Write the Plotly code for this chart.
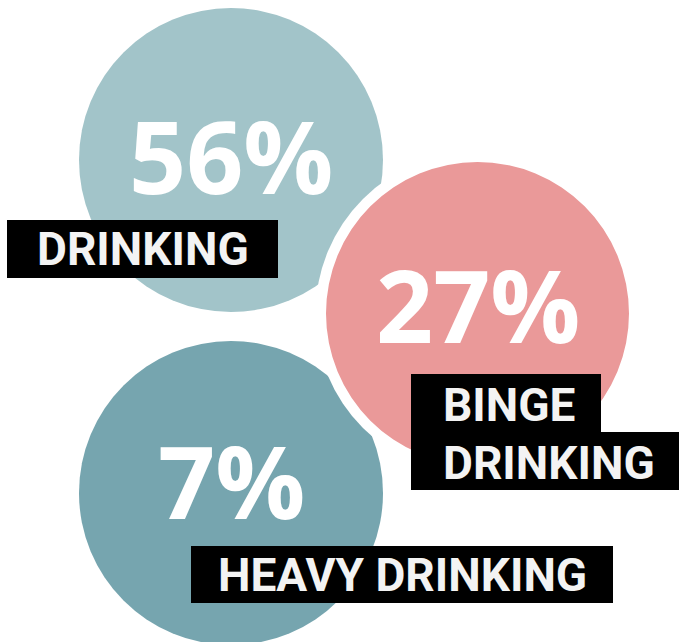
import plotly.graph_objects as go

# Data
percent_values = [56, 27, 7]
percent_labels = ["56%", "27%", "7%"]
category_labels = ["DRINKING", "BINGE<br>DRINKING", "HEAVY DRINKING"]

# Styles / layout
circle_colors = ["#a2c4c9", "#ea9999", "#76a5af"]
centers = [(231, 160), (477.5, 313.5), (231, 493)]
radius = 152
num_font = "Open Sans"
lab_font = "Roboto"

W, H = 679, 642
fig = go.Figure()
fig.add_trace(go.Scatter(x=[0, W], y=[0, H], mode="markers",
                         marker=dict(opacity=0), hoverinfo="skip", showlegend=False))

shapes = []
# circle 1 and 3 first
for i in [0, 2]:
    cx, cy = centers[i]
    shapes.append(dict(type="circle", xref="x", yref="y",
                       x0=cx - radius, x1=cx + radius, y0=cy - radius, y1=cy + radius,
                       fillcolor=circle_colors[i], line=dict(width=0), layer="above"))
# pink circle with white gap
cx, cy = centers[1]
rw = 162
shapes.append(dict(type="circle", xref="x", yref="y",
                   x0=cx - rw, x1=cx + rw, y0=cy - rw, y1=cy + rw,
                   fillcolor="white", line=dict(width=0), layer="above"))
rp = 151.5
shapes.append(dict(type="circle", xref="x", yref="y",
                   x0=cx - rp, x1=cx + rp, y0=cy - rp, y1=cy + rp,
                   fillcolor=circle_colors[1], line=dict(width=0), layer="above"))

# label boxes
boxes = [(7, 278, 220, 278), (411, 601, 374, 432), (411, 690, 432, 490), (191, 613, 546, 603)]
for x0, x1, y0, y1 in boxes:
    shapes.append(dict(type="rect", xref="x", yref="y", x0=x0, x1=x1, y0=y0, y1=y1,
                       fillcolor="black", line=dict(width=0), layer="above"))

annotations = []
num_offsets = [-5, -10, -13]
for i, t in enumerate(percent_labels):
    cx, cy = centers[i]
    annotations.append(dict(x=cx, y=cy + num_offsets[i], xref="x", yref="y", text="<b>%s</b>" % t,
                            showarrow=False, xanchor="center", yanchor="middle",
                            font=dict(family=num_font, size=100, color="white")))

lab_font_d = dict(family=lab_font, size=46, color="#f3f3f3")
annotations.append(dict(x=142.5, y=249, xref="x", yref="y", text="<b>DRINKING</b>",
                        showarrow=False, xanchor="center", yanchor="middle", font=lab_font_d))
annotations.append(dict(x=441, y=405, xref="x", yref="y", text="<b>BINGE</b>",
                        showarrow=False, xanchor="left", yanchor="middle", font=lab_font_d))
annotations.append(dict(x=441, y=463, xref="x", yref="y", text="<b>DRINKING</b>",
                        showarrow=False, xanchor="left", yanchor="middle", font=lab_font_d))
annotations.append(dict(x=402, y=575, xref="x", yref="y", text="<b>HEAVY DRINKING</b>",
                        showarrow=False, xanchor="center", yanchor="middle", font=lab_font_d))

fig.update_layout(
    width=W, height=H, margin=dict(l=0, r=0, t=0, b=0),
    paper_bgcolor="white", plot_bgcolor="white",
    xaxis=dict(range=[0, W], visible=False, fixedrange=True),
    yaxis=dict(range=[H, 0], visible=False, fixedrange=True),
    shapes=shapes, annotations=annotations, showlegend=False,
)
fig.write_html("out.html")
